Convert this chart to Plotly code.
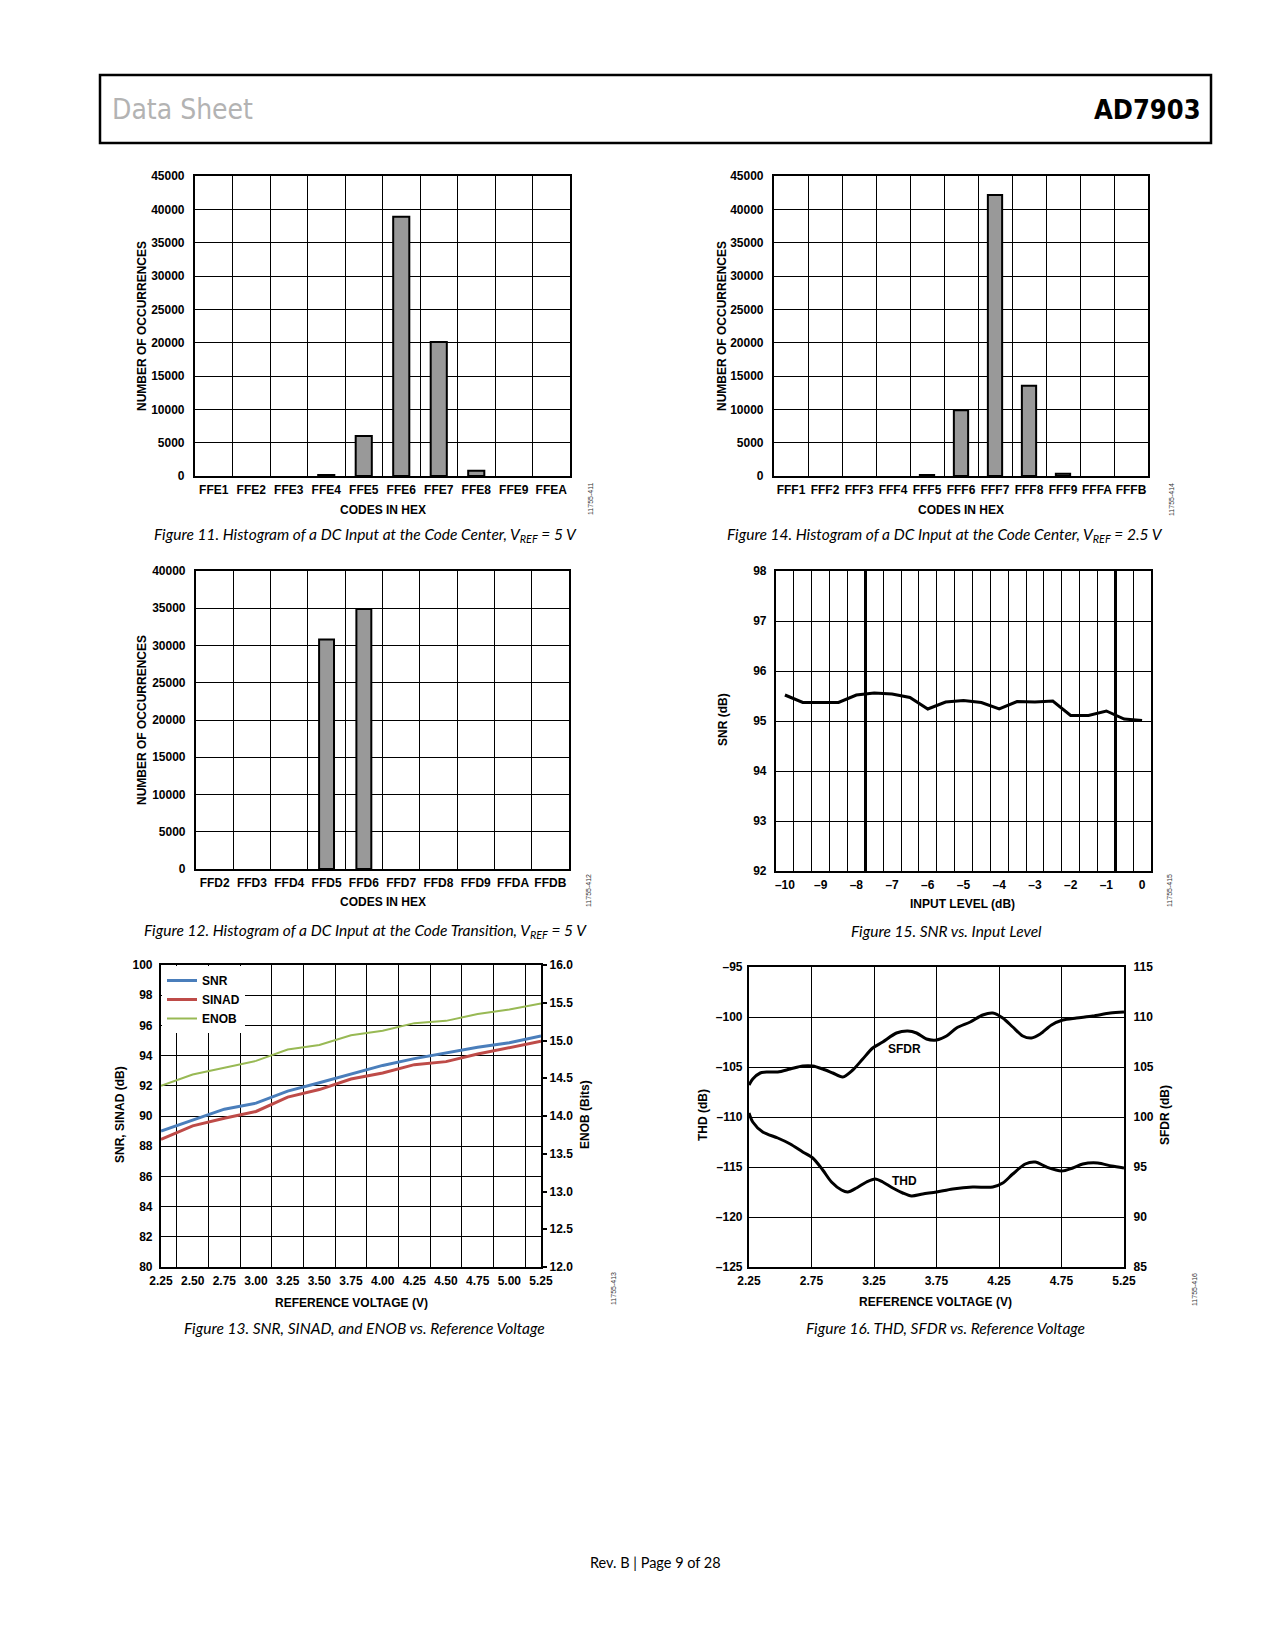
import plotly.graph_objects as go

W, H = 1275, 1650
OFF = 8  # page body margin of the html page


def px(x):
    return (x - OFF) / W


def py(y):
    return 1 - (y - OFF) / H


FONT = "Liberation Sans, Arial, Helvetica, sans-serif"
CAPFONT = "Lato, Noto Sans, sans-serif"
HEADFONT = "DejaVu Sans Condensed, DejaVu Sans, sans-serif"
TICKFONT = dict(family=FONT, size=12, color="black", weight="bold")
BAR_FILL = "#999999"

# ---------------- data ----------------
# Figure 11
fig11_codes = ["FFE1", "FFE2", "FFE3", "FFE4", "FFE5", "FFE6", "FFE7", "FFE8", "FFE9", "FFEA"]
fig11_counts = [0, 0, 0, 150, 6000, 38900, 20100, 800, 0, 0]
# Figure 14
fig14_codes = ["FFF1", "FFF2", "FFF3", "FFF4", "FFF5", "FFF6", "FFF7", "FFF8", "FFF9", "FFFA", "FFFB"]
fig14_counts = [0, 0, 0, 0, 150, 9850, 42150, 13550, 350, 0, 0]
# Figure 12
fig12_codes = ["FFD2", "FFD3", "FFD4", "FFD5", "FFD6", "FFD7", "FFD8", "FFD9", "FFDA", "FFDB"]
fig12_counts = [0, 0, 0, 30800, 34900, 0, 0, 0, 0, 0]
# Figure 15
fig15_level = [-10, -9.5, -9, -8.5, -8, -7.5, -7, -6.5, -6, -5.5, -5, -4.5, -4, -3.5, -3,
               -2.5, -2, -1.5, -1, -0.5, 0]
fig15_snr = [95.52, 95.37, 95.37, 95.37, 95.52, 95.56, 95.54, 95.47, 95.24, 95.38, 95.41,
             95.37, 95.24, 95.39, 95.38, 95.40, 95.11, 95.11, 95.20, 95.04, 95.01]
fig15_ticks = [-10, -9, -8, -7, -6, -5, -4, -3, -2, -1, 0]
fig15_ticktext = ["–10", "–9", "–8", "–7", "–6", "–5", "–4", "–3", "–2", "–1", "0"]
fig15_heavy_grid = [-7.75, -0.75]
# Figure 13
fig13_vref = ["2.25", "2.50", "2.75", "3.00", "3.25", "3.50", "3.75", "4.00", "4.25", "4.50",
              "4.75", "5.00", "5.25"]
fig13_snr = [89.0, 89.75, 90.45, 90.85, 91.65, 92.2, 92.8, 93.35, 93.8, 94.2, 94.55, 94.85, 95.3]
fig13_sinad = [88.45, 89.35, 89.85, 90.3, 91.25, 91.75, 92.45, 92.85, 93.4, 93.6, 94.1, 94.5, 94.95]
fig13_enob = [14.40, 14.55, 14.64, 14.73, 14.88, 14.94, 15.07, 15.13, 15.23, 15.26, 15.35, 15.41, 15.49]
# Figure 16
fig16_thd_v = [2.25, 2.28, 2.36, 2.48, 2.58, 2.68, 2.76, 2.84, 2.91, 2.99, 3.04, 3.11, 3.19, 3.26,
               3.32, 3.40, 3.48, 3.55, 3.64, 3.75, 3.88, 4.04, 4.20, 4.28, 4.36, 4.46, 4.54, 4.63,
               4.75, 4.84, 4.92, 5.04, 5.15, 5.25]
fig16_thd = [-109.6, -110.5, -111.5, -112.1, -112.7, -113.5, -114.1, -115.3, -116.5, -117.3,
             -117.5, -117.1, -116.5, -116.2, -116.5, -117.1, -117.6, -117.9, -117.7, -117.5,
             -117.2, -117.0, -117.0, -116.6, -115.7, -114.7, -114.5, -115.0, -115.4, -115.1,
             -114.7, -114.6, -114.9, -115.1]
fig16_sfdr_v = [2.25, 2.28, 2.34, 2.40, 2.48, 2.58, 2.68, 2.76, 2.84, 2.92, 3.00, 3.08, 3.16,
                3.24, 3.32, 3.43, 3.52, 3.59, 3.67, 3.75, 3.83, 3.91, 4.02, 4.12, 4.20, 4.28,
                4.36, 4.44, 4.51, 4.58, 4.67, 4.76, 4.87, 5.00, 5.14, 5.25]
fig16_sfdr = [103.2, 103.8, 104.4, 104.5, 104.5, 104.8, 105.1, 105.1, 104.8, 104.4, 104.0,
              104.7, 105.8, 106.9, 107.5, 108.4, 108.6, 108.4, 107.8, 107.7, 108.1, 108.9,
              109.5, 110.2, 110.4, 109.9, 109.0, 108.1, 107.9, 108.3, 109.2, 109.7, 109.9,
              110.1, 110.4, 110.5]
fig16_xticks = [2.25, 2.75, 3.25, 3.75, 4.25, 4.75, 5.25]
fig16_thd_ticks = [-125, -120, -115, -110, -105, -100, -95]
fig16_thd_ticktext = ["–125", "–120", "–115", "–110", "–105", "–100", "–95"]

# ---------------- traces ----------------
fig = go.Figure()


def bar_marker(counts):
    return dict(color=BAR_FILL, line=dict(color="black", width=[2 if c > 0 else 0 for c in counts]))


fig.add_trace(go.Bar(x=fig11_codes, y=fig11_counts, width=0.43, marker=bar_marker(fig11_counts),
                     xaxis="x", yaxis="y", showlegend=False))
fig.add_trace(go.Bar(x=fig14_codes, y=fig14_counts, width=0.42, marker=bar_marker(fig14_counts),
                     xaxis="x2", yaxis="y2", showlegend=False))
fig.add_trace(go.Bar(x=fig12_codes, y=fig12_counts, width=0.4, marker=bar_marker(fig12_counts),
                     xaxis="x3", yaxis="y3", showlegend=False))
fig.add_trace(go.Scatter(x=fig15_level, y=fig15_snr, mode="lines",
                         line=dict(color="black", width=3), xaxis="x4", yaxis="y4",
                         showlegend=False))
# empty trace that only registers the overlay axis carrying the heavy grid lines
fig.add_trace(go.Scatter(x=[], y=[], mode="lines", xaxis="x7", yaxis="y4", showlegend=False,
                         hoverinfo="skip"))
fig.add_trace(go.Scatter(x=fig13_vref, y=fig13_snr, mode="lines", name="SNR",
                         line=dict(color="#4a7ebb", width=3), xaxis="x5", yaxis="y5"))
fig.add_trace(go.Scatter(x=fig13_vref, y=fig13_sinad, mode="lines", name="SINAD",
                         line=dict(color="#be4b48", width=3), xaxis="x5", yaxis="y5"))
fig.add_trace(go.Scatter(x=fig13_vref, y=fig13_enob, mode="lines", name="ENOB",
                         line=dict(color="#98b954", width=2), xaxis="x5", yaxis="y6"))
fig.add_trace(go.Scatter(x=fig16_sfdr_v, y=fig16_sfdr, mode="lines",
                         line=dict(color="black", width=3, shape="spline", smoothing=0.8),
                         xaxis="x6", yaxis="y8", showlegend=False))
fig.add_trace(go.Scatter(x=fig16_thd_v, y=fig16_thd, mode="lines",
                         line=dict(color="black", width=3, shape="spline", smoothing=0.8),
                         xaxis="x6", yaxis="y7", showlegend=False))


# ---------------- axes ----------------
def ax(**kw):
    d = dict(showline=True, linecolor="black", linewidth=2.2, mirror=True, showgrid=True,
             gridcolor="black", gridwidth=1.1, zeroline=False, ticks="", tickfont=TICKFONT,
             fixedrange=True, automargin=False)
    d.update(kw)
    return d


def cat_x(domain, anchor):
    return ax(domain=domain, anchor=anchor, type="category", tickson="boundaries",
              tickangle=0, ticklabelstandoff=1)


fig15_bounds = [v - 0.25 for v in fig15_level] + [fig15_level[-1] + 0.25]

layout_axes = dict(
    # Figure 11
    xaxis=cat_x([px(195), px(570)], "y"),
    yaxis=ax(domain=[py(476), py(176)], anchor="x", range=[0, 45000], dtick=5000,
             tickformat="d", ticklabelstandoff=6),
    # Figure 14
    xaxis2=cat_x([px(774), px(1148)], "y2"),
    yaxis2=ax(domain=[py(476), py(176)], anchor="x2", range=[0, 45000], dtick=5000,
              tickformat="d", ticklabelstandoff=6),
    # Figure 12
    xaxis3=cat_x([px(196), px(569)], "y3"),
    yaxis3=ax(domain=[py(869), py(571)], anchor="x3", range=[0, 40000], dtick=5000,
              tickformat="d", ticklabelstandoff=6),
    # Figure 15
    xaxis4=ax(domain=[px(776), px(1151)], anchor="y4", range=[-10.25, 0.25],
              tickmode="array", tickvals=fig15_ticks, ticktext=fig15_ticktext, showgrid=False,
              tickangle=0,
              minor=dict(tickmode="array", tickvals=fig15_bounds, showgrid=True,
                         gridcolor="black", gridwidth=1.1, ticks="", ticklen=0),
              ticklabelstandoff=1),
    yaxis4=ax(domain=[py(871), py(571)], anchor="x4", range=[92, 98], dtick=1,
              ticklabelstandoff=5),
    xaxis7=dict(overlaying="x4", anchor="y4", domain=[px(776), px(1151)], range=[-10.25, 0.25],
                tickmode="array", tickvals=fig15_heavy_grid, showgrid=True, gridcolor="black",
                gridwidth=3.2, showticklabels=False, showline=False, zeroline=False, ticks="",
                fixedrange=True, automargin=False),
    # Figure 13
    xaxis5=cat_x([px(161), px(541)], "y5"),
    yaxis5=ax(domain=[py(1267), py(965)], anchor="x5", range=[80, 100], dtick=2,
              ticklabelstandoff=4),
    yaxis6=ax(overlaying="y5", side="right", anchor="x5", range=[12, 16], dtick=0.5,
              tickformat=".1f", showgrid=False, ticks="outside", ticklen=4, tickwidth=1.5,
              tickcolor="black", mirror=False, ticklabelstandoff=0),
    # Figure 16
    xaxis6=ax(domain=[px(749), px(1124)], anchor="y7", range=[2.25, 5.25], tickmode="array",
              tickvals=fig16_xticks, tickformat=".2f", tickangle=0, ticklabelstandoff=1),
    yaxis7=ax(domain=[py(1267), py(967)], anchor="x6", range=[-125, -95], tickmode="array",
              tickvals=fig16_thd_ticks, ticktext=fig16_thd_ticktext, ticklabelstandoff=2),
    yaxis8=ax(overlaying="y7", side="right", anchor="x6", range=[85, 115], dtick=5,
              showgrid=False, mirror=False, ticklabelstandoff=5),
)

# ---------------- text ----------------
ann = []


def text(t, x, y, size=12, bold=True, angle=0, color="black", family=FONT, xanchor="center",
         xref="paper", yref="paper"):
    ann.append(dict(text=t, x=x, y=y, xref=xref, yref=yref, xanchor=xanchor, yanchor="middle",
                    showarrow=False, textangle=angle,
                    font=dict(family=family, size=size, color=color,
                              weight="bold" if bold else "normal")))


CAP = dict(size=15.5, bold=False, family=CAPFONT)
ID = dict(size=7, bold=False, angle=-90, color="#333333")

# Figure 11
text("NUMBER OF OCCURRENCES", px(142), py(326), angle=-90)
text("CODES IN HEX", px(383), py(510))
text("<i>Figure 11. Histogram of a DC Input at the Code Center, V<sub>REF</sub> = 5 V</i>",
     px(365), py(535), **CAP)
text("11755-411", px(590), py(499), **ID)
# Figure 14
text("NUMBER OF OCCURRENCES", px(722), py(326), angle=-90)
text("CODES IN HEX", px(961), py(510))
text("<i>Figure 14. Histogram of a DC Input at the Code Center, V<sub>REF</sub> = 2.5 V</i>",
     px(945), py(535), **CAP)
text("11755-414", px(1172), py(500), **ID)
# Figure 12
text("NUMBER OF OCCURRENCES", px(142), py(720), angle=-90)
text("CODES IN HEX", px(383), py(902))
text("<i>Figure 12. Histogram of a DC Input at the Code Transition, V<sub>REF</sub> = 5 V</i>",
     px(365), py(931), **CAP)
text("11755-412", px(588), py(891), **ID)
# Figure 15
text("SNR (dB)", px(723), py(720), angle=-90)
text("INPUT LEVEL (dB)", px(962), py(904))
text("<i>Figure 15. SNR vs. Input Level</i>", px(946), py(931), **CAP)
text("11755-415", px(1169), py(891), **ID)
# Figure 13
text("SNR, SINAD (dB)", px(120), py(1115), angle=-90)
text("ENOB (Bits)", px(585), py(1115), angle=-90)
text("REFERENCE VOLTAGE (V)", px(352), py(1303))
text("<i>Figure 13. SNR, SINAD, and ENOB vs. Reference Voltage</i>", px(364), py(1328), **CAP)
text("11755-413", px(613), py(1289), **ID)
# Figure 16
text("THD (dB)", px(703), py(1115), angle=-90)
text("SFDR (dB)", px(1165), py(1115), angle=-90)
text("REFERENCE VOLTAGE (V)", px(936), py(1302))
text("<i>Figure 16. THD, SFDR vs. Reference Voltage</i>", px(945), py(1328), **CAP)
text("11755-416", px(1194), py(1290), **ID)
text("SFDR", 3.495, -103.2, xref="x6", yref="y7")
text("THD", 3.495, -116.4, xref="x6", yref="y7")

# Page header / footer
text("Data Sheet", px(110), py(110), size=28, bold=False, color="#b3b3b3", family=HEADFONT,
     xanchor="left")
text("AD7903", px(1203), py(110), size=27, bold=True, color="black", family=HEADFONT,
     xanchor="right")
text("Rev. B | Page 9 of 28", px(655), py(1562), size=14.5, bold=False, family=CAPFONT)

shapes = [dict(type="rect", xref="paper", yref="paper", x0=px(100), x1=px(1211), y0=py(143),
               y1=py(75), line=dict(color="black", width=2.5))]

fig.update_layout(
    width=W, height=H, margin=dict(l=0, r=0, t=0, b=0, pad=0, autoexpand=False),
    paper_bgcolor="white", plot_bgcolor="white",
    font=dict(family=FONT, color="black"),
    legend=dict(x=px(162), y=py(966), xanchor="left", yanchor="top", bgcolor="white",
                borderwidth=0, itemwidth=30, tracegroupgap=0,
                font=dict(family=FONT, size=12, color="black", weight="bold")),
    annotations=ann, shapes=shapes,
    **layout_axes,
)

fig.write_html("out.html")
